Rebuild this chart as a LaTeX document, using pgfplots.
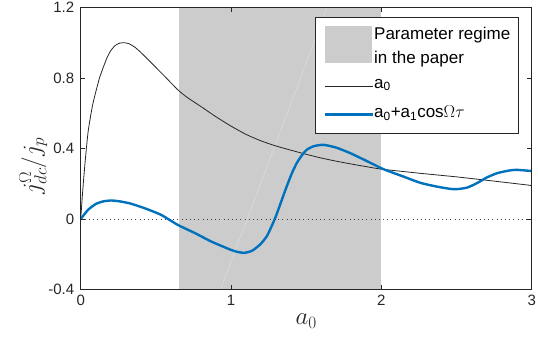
\documentclass[border=0pt]{standalone}
\usepackage{fontspec}
\setmainfont{Liberation Sans}
\usepackage{pgfplots}
\pgfplotsset{compat=1.18}
\definecolor{mblue}{rgb}{0,0.447,0.741}
\definecolor{shade}{RGB}{204,204,204}
\definecolor{axgray}{RGB}{38,38,38}
\pgfplotsset{
 linelegend/.style={legend image code/.code={\draw[##1] (0pt,0pt) -- (48pt,0pt);}},
 patchlegend/.style={legend image code/.code={\path[##1, overlay] (0pt,-28.5pt) rectangle (47pt,8.5pt);\path[draw=none,fill=none] (0pt,0pt) -- (48pt,0pt);}},
}
\begin{document}
\begin{tikzpicture}
\useasboundingbox (-80.7pt,-53.5pt) rectangle (457.3pt,289.5pt);
\begin{axis}[
 at={(0pt,0pt)}, anchor=south west,
 scale only axis, width=451pt, height=282pt,
 xmin=0,xmax=3,ymin=-0.4,ymax=1.2,
 xtick={0,1,2,3}, xticklabels={0,1,2,3},
 ytick={-0.4,0,0.4,0.8,1.2}, yticklabels={-0.4,0,0.4,0.8,1.2},
 tick align=inside, major tick length=4.5pt,
 axis on top,
 axis line style={axgray, line width=0.6pt},
 every tick/.style={axgray, line width=0.6pt},
 tick label style={font=\fontsize{15}{17}\selectfont, text=axgray},
 xticklabel style={yshift=-2pt},
 yticklabel style={xshift=-3pt},
 xlabel={$a_0$},
 ylabel={$j_{dc}^{\Omega}/j_p$},
 label style={font=\fontsize{25}{28}\selectfont, text=axgray},
 xlabel style={at={(axis description cs:0.5,-0.112)}, anchor=center},
 ylabel style={at={(axis description cs:-0.105,0.4375)}, anchor=center},
 legend style={at={(axis description cs:0.5195,0.9652)}, anchor=north west,
   draw=axgray, line width=0.6pt, fill=white,
   font=\fontsize{17}{20}\selectfont, text=black,
   inner xsep=8.5pt, inner ysep=8.7pt,
   nodes={inner sep=0pt, text height=13pt, text depth=4pt},
   row sep=7.5pt,
   /tikz/every even column/.append style={column sep=5pt}},
 legend cell align=left,
]
\addplot[fill=shade, draw=none, patchlegend]
  coordinates {(0.656,-0.4) (2,-0.4) (2,1.2) (0.656,1.2)} -- cycle;
\addlegendentry{Parameter regime}
\addlegendimage{empty legend}
\addlegendentry{in the paper}
\addplot[white, opacity=0.35, line width=0.5pt, forget plot]
  coordinates {(0.93,-0.4) (1.64,1.2)};
\addplot[black!75, line width=0.9pt, dash pattern=on 1pt off 3.2pt, forget plot]
  coordinates {(0,0) (3,0)};
\addplot[axgray, line width=0.8pt, linelegend, smooth, tension=0.35]
  coordinates {
(0,0) (0.01,0.12) (0.02,0.23) (0.03,0.33) (0.04,0.42) (0.05,0.50)
(0.065,0.58) (0.08,0.65) (0.1,0.72) (0.125,0.80) (0.15,0.86) (0.175,0.915)
(0.2,0.955) (0.23,0.985) (0.26,0.998) (0.29,1.0) (0.32,0.995) (0.36,0.975)
(0.4,0.945) (0.45,0.903) (0.5,0.86) (0.55,0.817) (0.6,0.773) (0.65,0.73)
(0.7,0.695) (0.75,0.666) (0.8,0.638) (0.9,0.58) (1.0,0.527) (1.1,0.48)
(1.2,0.443) (1.3,0.414) (1.4,0.39) (1.5,0.367) (1.6,0.346) (1.7,0.328)
(1.8,0.312) (1.9,0.297) (2.0,0.283) (2.25,0.26) (2.5,0.239)
(2.75,0.215) (3.0,0.19)
};
\addlegendentry[text depth=9pt]{a\textsubscript{0}}
\addplot[mblue, line width=2.4pt, linelegend, smooth, tension=0.35]
  coordinates {
(0,0) (0.049,0.052) (0.1,0.085) (0.15,0.10) (0.204,0.105) (0.26,0.10)
(0.33,0.088) (0.426,0.061) (0.536,0.023) (0.647,-0.034) (0.76,-0.08)
(0.869,-0.128) (1.002,-0.176) (1.05,-0.188) (1.09,-0.192) (1.14,-0.18)
(1.193,-0.145) (1.24,-0.095) (1.293,0.004) (1.33,0.09) (1.37,0.184)
(1.405,0.26) (1.437,0.317) (1.47,0.36) (1.504,0.393) (1.55,0.413)
(1.614,0.421) (1.7,0.405) (1.792,0.374) (1.9,0.33) (2.013,0.283)
(2.146,0.241) (2.26,0.205) (2.368,0.184) (2.45,0.172) (2.50,0.169)
(2.57,0.178) (2.635,0.203) (2.7,0.235) (2.77,0.26) (2.85,0.275)
(2.9,0.279) (3.0,0.272)
};
\addlegendentry[text depth=6.6pt]{a\textsubscript{0}+a\textsubscript{1}cos$\Omega\tau$}
\end{axis}
\end{tikzpicture}
\end{document}
